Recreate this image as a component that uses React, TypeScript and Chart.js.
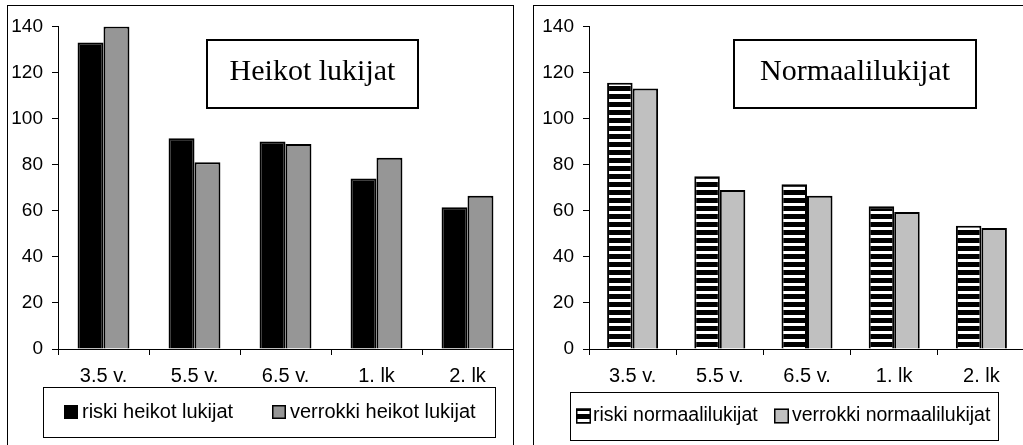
import React, { useEffect, useRef } from 'react';
import { Chart, registerables } from 'chart.js';

Chart.register(...registerables);

const categories = ['3.5 v.', '5.5 v.', '6.5 v.', '1. lk', '2. lk'];
const riskiHeikot = [133, 91.5, 90, 74, 61.5];
const verrokkiHeikot = [140, 81, 89, 83, 66.5];
const riskiNormaali = [115.5, 75, 71.5, 62, 53.5];
const verrokkiNormaali = [113, 69, 66.5, 59.5, 52.5];
const yMin = 0;
const yMax = 140;
const yStep = 20;
const leftTitle = 'Heikot lukijat';
const rightTitle = 'Normaalilukijat';
const leftLegend = ['riski heikot lukijat', 'verrokki heikot lukijat'];
const rightLegend = ['riski normaalilukijat', 'verrokki normaalilukijat'];

const SANS = '"Liberation Sans", Arial, sans-serif';
const SERIF = '"Liberation Serif", "Times New Roman", serif';

function makeStripes(): CanvasPattern | string {
  const c = document.createElement('canvas');
  c.width = 8;
  c.height = 8;
  const g = c.getContext('2d');
  if (!g) return '#000';
  g.fillStyle = '#fff';
  g.fillRect(0, 0, 8, 8);
  g.fillStyle = '#000';
  g.fillRect(0, 0, 8, 5);
  return g.createPattern(c, 'repeat') || '#000';
}

const decorPlugin = {
  id: 'panelDecor',
  afterDraw(chart: any, _args: any, opts: any) {
    const ctx: CanvasRenderingContext2D = chart.ctx;
    const t = opts.title;
    const lg = opts.legend;
    ctx.save();
    // title box
    ctx.fillStyle = '#fff';
    ctx.fillRect(t.x, t.y, t.w, t.h);
    ctx.lineWidth = 2;
    ctx.strokeStyle = '#000';
    ctx.strokeRect(t.x, t.y, t.w, t.h);
    ctx.fillStyle = '#000';
    ctx.font = `${t.size}px ${SERIF}`;
    ctx.textAlign = 'center';
    ctx.textBaseline = 'alphabetic';
    ctx.fillText(t.text, t.x + t.w / 2, t.baseline);
    // legend box
    ctx.lineWidth = 1;
    ctx.strokeStyle = '#000';
    ctx.strokeRect(lg.x + 0.5, lg.y + 0.5, lg.w, lg.h);
    ctx.font = `${lg.size}px ${SANS}`;
    ctx.textAlign = 'left';
    ctx.textBaseline = 'middle';
    chart.data.datasets.forEach((ds: any, i: number) => {
      const sx = lg.swatchX[i];
      const s = lg.swatch;
      const sy = lg.cy - s / 2;
      ctx.fillStyle = ds.backgroundColor;
      ctx.fillRect(sx, sy, s, s);
      ctx.lineWidth = 1.5;
      ctx.strokeStyle = '#000';
      ctx.strokeRect(sx + 0.75, sy + 0.75, s - 1.5, s - 1.5);
      ctx.fillStyle = '#000';
      ctx.fillText(ds.label, lg.textX[i], lg.cy);
    });
    ctx.restore();
  },
};

type PanelProps = {
  width: number;
  height: number;
  yWidth: number;
  padRight: number;
  catPct: number;
  datasets: any[];
  title: any;
  legend: any;
};

function Panel(props: PanelProps) {
  const ref = useRef<HTMLCanvasElement>(null);
  useEffect(() => {
    if (!ref.current) return;
    const chart = new Chart(ref.current, {
      type: 'bar',
      data: { labels: categories, datasets: props.datasets },
      plugins: [decorPlugin as any],
      options: {
        responsive: false,
        animation: false,
        devicePixelRatio: 1,
        layout: { padding: { top: 17, bottom: 56, left: 0, right: props.padRight } },
        datasets: {
          bar: { categoryPercentage: props.catPct, barPercentage: 1 },
        } as any,
        plugins: {
          legend: { display: false },
          tooltip: { enabled: false },
          title: { display: false },
          panelDecor: { title: props.title, legend: props.legend },
        } as any,
        scales: {
          x: {
            offset: true,
            grid: {
              offset: true,
              drawOnChartArea: false,
              drawTicks: true,
              tickLength: 6,
              color: '#000',
              lineWidth: 1,
            },
            border: { display: true, color: '#000', width: 1 },
            ticks: {
              color: '#000',
              font: { family: SANS, size: 20 },
              padding: 9,
              maxRotation: 0,
              autoSkip: false,
            },
            afterFit: (s: any) => {
              s.height = 40;
            },
          },
          y: {
            min: yMin,
            max: yMax,
            grid: {
              drawOnChartArea: false,
              drawTicks: true,
              tickLength: 6,
              color: '#000',
              lineWidth: 1,
            },
            border: { display: true, color: '#000', width: 1 },
            ticks: {
              stepSize: yStep,
              color: '#000',
              font: { family: SANS, size: 19 },
              padding: 9,
            },
            afterFit: (s: any) => {
              s.width = props.yWidth;
            },
          },
        },
      },
    });
    return () => chart.destroy();
  }, []);
  return (
    <canvas
      ref={ref}
      width={props.width}
      height={props.height}
      style={{ display: 'block', width: props.width, height: props.height }}
    />
  );
}

export default function App() {
  const stripes = makeStripes();
  const leftSets = [
    {
      label: leftLegend[0],
      data: riskiHeikot,
      backgroundColor: '#000000',
      borderColor: '#000',
      borderWidth: 2,
    },
    {
      label: leftLegend[1],
      data: verrokkiHeikot,
      backgroundColor: '#969696',
      borderColor: '#000',
      borderWidth: 2,
    },
  ];
  const rightSets = [
    {
      label: rightLegend[0],
      data: riskiNormaali,
      backgroundColor: stripes,
      borderColor: '#000',
      borderWidth: 2,
    },
    {
      label: rightLegend[1],
      data: verrokkiNormaali,
      backgroundColor: '#C0C0C0',
      borderColor: '#000',
      borderWidth: 2,
    },
  ];
  return (
    <div
      style={{
        position: 'absolute',
        left: 0,
        top: 0,
        width: 1023,
        height: 445,
        overflow: 'hidden',
        background: '#fff',
      }}
    >
      <div
        style={{
          position: 'absolute',
          left: 7,
          top: 5,
          width: 505,
          height: 460,
          border: '1px solid #000',
        }}
      >
        <Panel
          width={505}
          height={439}
          yWidth={50}
          padRight={0}
          catPct={0.57}
          datasets={leftSets}
          title={{ x: 199, y: 34, w: 211, h: 68, baseline: 74, size: 30, text: leftTitle }}
          legend={{
            x: 35,
            y: 381,
            w: 452,
            h: 50,
            cy: 406,
            size: 20,
            swatch: 14,
            swatchX: [56, 264],
            textX: [74, 282],
          }}
        />
      </div>
      <div
        style={{
          position: 'absolute',
          left: 533,
          top: 5,
          width: 520,
          height: 460,
          border: '1px solid #000',
        }}
      >
        <Panel
          width={500}
          height={439}
          yWidth={55}
          padRight={9}
          catPct={0.585}
          datasets={rightSets}
          title={{ x: 200, y: 34, w: 242, h: 68, baseline: 74, size: 30, text: rightTitle }}
          legend={{
            x: 36,
            y: 386,
            w: 428,
            h: 48,
            cy: 410,
            size: 19.5,
            swatch: 15,
            swatchX: [42, 240],
            textX: [59, 258],
          }}
        />
      </div>
    </div>
  );
}
